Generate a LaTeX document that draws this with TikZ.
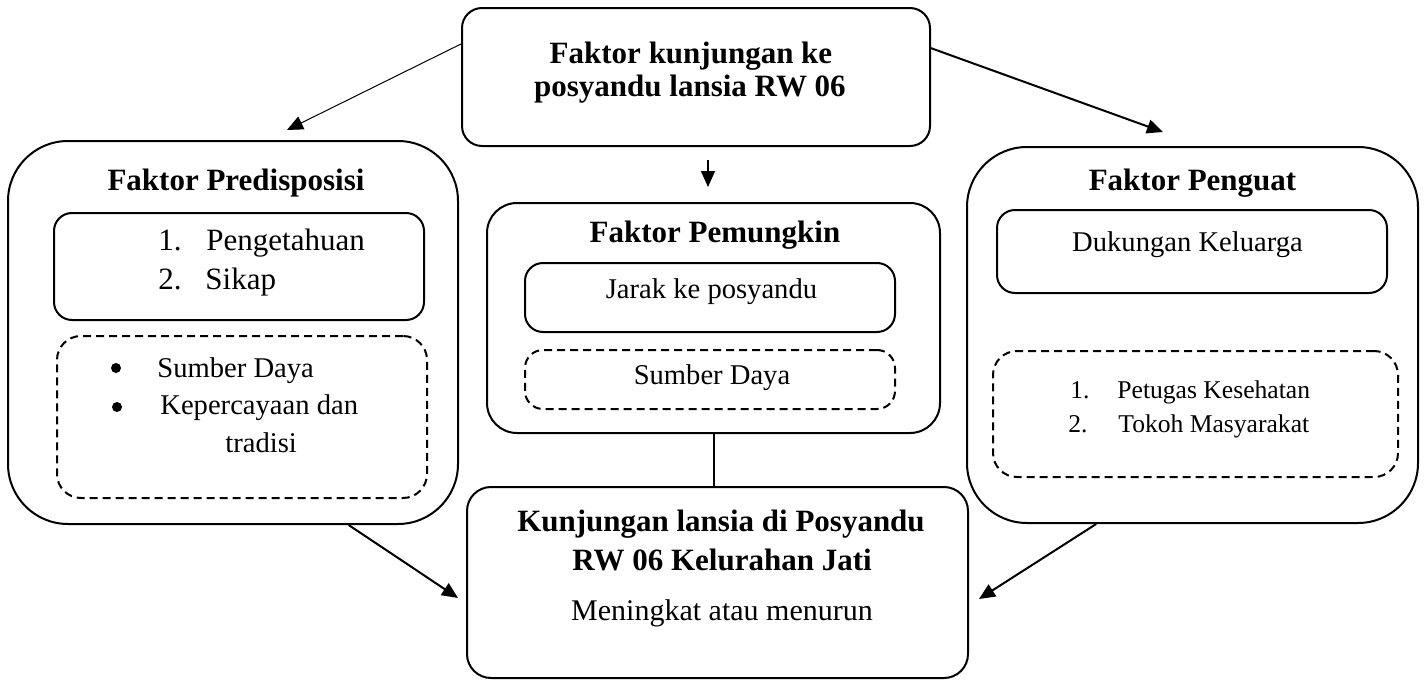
\documentclass[tikz,border=0pt]{standalone}
\usepackage{fontspec}
\setmainfont{Liberation Serif}
\usetikzlibrary{arrows.meta,calc}

\tikzset{
  box/.style={draw, line width=1pt, inner sep=0pt},
  dbox/.style={box, dash pattern=on 4pt off 2.5pt},
  txt/.style={anchor=base, inner sep=0pt, font=\fontsize{14.3}{17}\selectfont},
  btxt/.style={txt, font=\fontsize{15.5}{18}\selectfont\bfseries},
  ltxt/.style={txt, anchor=base west, font=\fontsize{15.5}{18}\selectfont},
  stxt/.style={txt, anchor=base west, font=\fontsize{12.8}{15}\selectfont},
  dot/.style={circle, fill, inner sep=0pt, minimum size=5pt},
  arr/.style={line width=1pt, -{Triangle[length=8pt,width=7pt]}},
}

\begin{document}
\begin{tikzpicture}[x=0.5pt, y=-0.5pt]
\useasboundingbox (0,0) rectangle (1426,680);

\node[box, rounded corners=10pt, minimum width=234pt, minimum height=69pt] (faktor) at (696,77) {};
\node[btxt] (faktor1) at (691,63) {Faktor kunjungan ke};
\node[btxt] (faktor2) at (690,97) {posyandu lansia RW 06};

\node[box, rounded corners=30pt, minimum width=225pt, minimum height=191.5pt] (predis) at (233,332.5) {};
\node[btxt] (predisT) at (236,190) {Faktor Predisposisi};
\node[box, rounded corners=9pt, minimum width=185pt, minimum height=53.5pt] (predisA) at (239,266.5) {};
\node[ltxt] (num1) at (158,250) {1.};
\node[ltxt] (peng) at (206,250) {Pengetahuan};
\node[ltxt] (num2) at (158,289) {2.};
\node[ltxt] (sikap) at (205,289) {Sikap};
\node[dbox, rounded corners=12pt, minimum width=185pt, minimum height=81pt] (predisB) at (242,417) {};
\node[dot] (bul1) at (116,368) {};
\node[dot] (bul2) at (117,407) {};
\node[txt, anchor=base west] (sumber1) at (157,377) {Sumber Daya};
\node[txt, anchor=base west] (percaya) at (160,414) {Kepercayaan dan};
\node[txt, anchor=base west] (tradisi) at (225,452) {tradisi};

\node[box, rounded corners=15pt, minimum width=226.5pt, minimum height=115pt] (mungkin) at (713.5,318) {};
\node[btxt] (mungkinT) at (715,242) {Faktor Pemungkin};
\node[box, rounded corners=9pt, minimum width=185pt, minimum height=34.5pt] (mungkinA) at (710,297.5) {};
\node[txt] (jarak) at (711.5,298) {Jarak ke posyandu};
\node[dbox, rounded corners=9pt, minimum width=185pt, minimum height=29.5pt] (mungkinB) at (710,379.5) {};
\node[txt] (sumber2) at (712,384) {Sumber Daya};

\node[box, rounded corners=30pt, minimum width=225.5pt, minimum height=188pt] (penguat) at (1192.5,335) {};
\node[btxt] (penguatT) at (1192.5,190) {Faktor Penguat};
\node[box, rounded corners=9pt, minimum width=195pt, minimum height=41.5pt] (penguatA) at (1192,251.5) {};
\node[txt] (dukungan) at (1187.5,251) {Dukungan Keluarga};
\node[dbox, rounded corners=12pt, minimum width=202.5pt, minimum height=63pt] (penguatB) at (1195.5,414) {};
\node[stxt] (num3) at (1070,398) {1.};
\node[stxt] (petugas) at (1117,398) {Petugas Kesehatan};
\node[stxt] (num4) at (1068,432) {2.};
\node[stxt] (tokoh) at (1118,432) {Tokoh Masyarakat};

\node[box, rounded corners=12pt, minimum width=250.5pt, minimum height=95.5pt] (hasil) at (717.5,582.5) {};
\node[btxt] (hasil1) at (721,531) {Kunjungan lansia di Posyandu};
\node[btxt] (hasil2) at (722,570) {RW 06 Kelurahan Jati};
\node[txt, font=\fontsize{15}{18}\selectfont] (hasil3) at (722,620) {Meningkat atau menurun};

\coordinate (tipL) at (287,130);
\coordinate (tipR) at (1163,132);
\coordinate (tipBL) at (458,598);
\coordinate (tipBR) at (979,599);

\draw[arr, line width=0.5pt] (faktor.172.5) -- (tipL);
\draw[arr] (faktor.7) -- (tipR);
\draw[arr, line width=0.7pt, shorten <=6.5pt, shorten >=7.5pt]
  ($(mungkin.north |- faktor.south)+(-5.5,0)$) -- ($(mungkin.north)+(-5.5,0)$);
\draw[line width=1pt] (mungkin.south) -- (mungkin.south |- hasil.north);
\draw[arr] (predis.-59.2) -- (tipBL);
\draw[arr] (penguat.-117.8) -- (tipBR);
\end{tikzpicture}
\end{document}
